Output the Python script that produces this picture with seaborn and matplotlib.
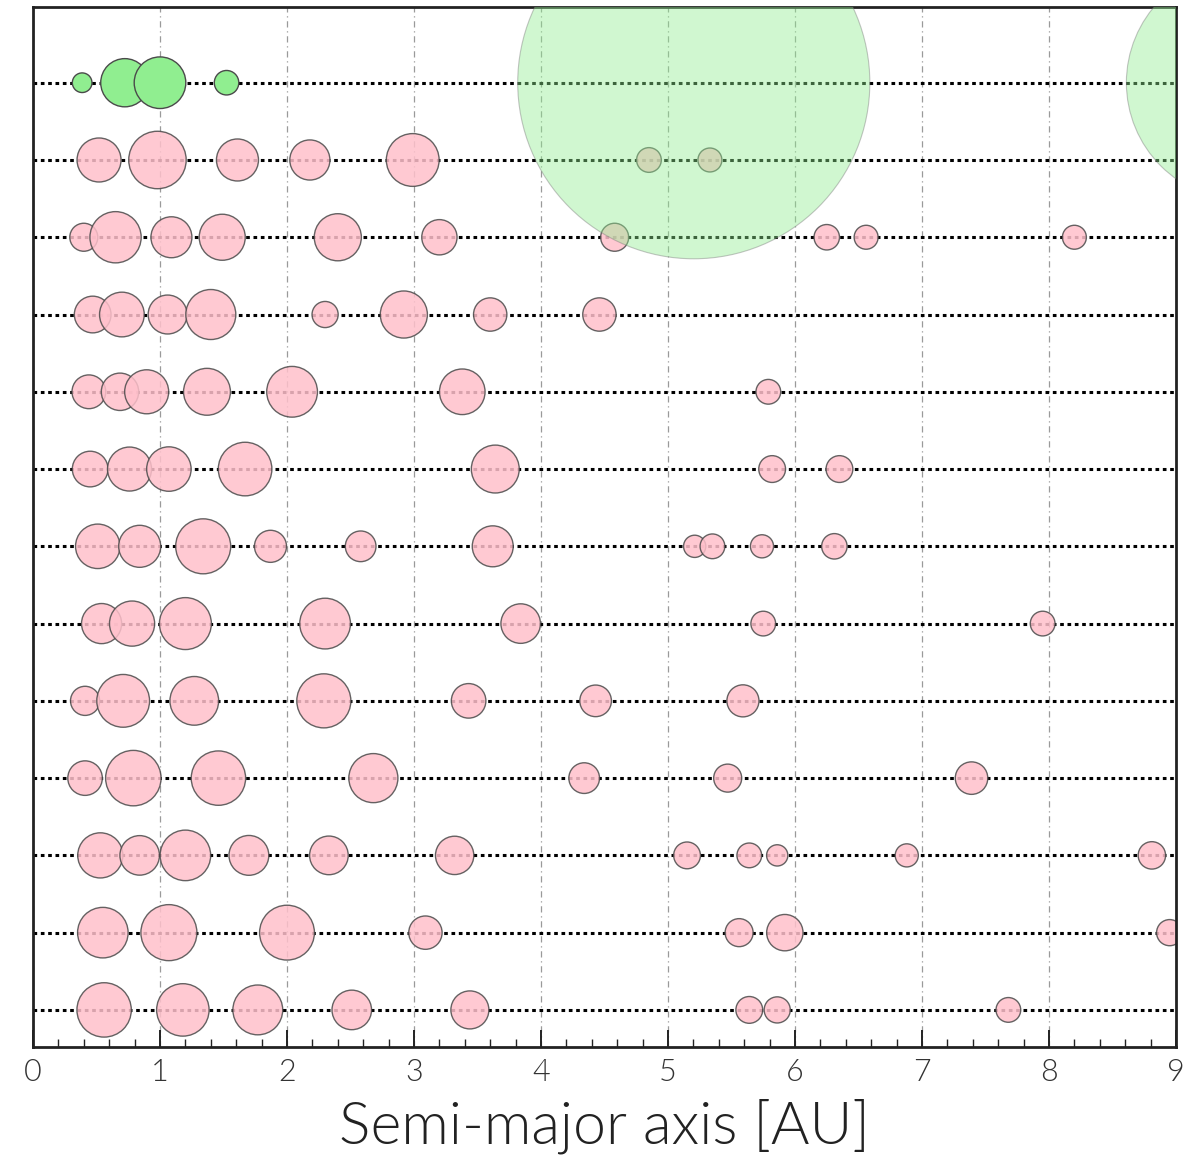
import numpy as np
import pandas as pd
import matplotlib
matplotlib.use("Agg")
import matplotlib.pyplot as plt
import seaborn as sns
from matplotlib.ticker import MultipleLocator

# ---- data: Solar System (row 0) ----
solar_a = [0.387, 0.723, 1.0, 1.524, 5.203, 9.537]      # AU
solar_m = [0.055, 0.815, 1.0, 0.107, 317.8, 95.2]      # Earth masses

# ---- data: simulated systems (rows 1..12) ----
sim_a = [
    [0.52, 0.98, 1.61, 2.18, 2.99, 4.85, 5.33],
    [0.40, 0.65, 1.09, 1.49, 2.40, 3.20, 4.58, 6.25, 6.56, 8.20],
    [0.47, 0.70, 1.06, 1.40, 2.30, 2.92, 3.60, 4.46],
    [0.44, 0.685, 0.895, 1.37, 2.04, 3.38, 5.79],
    [0.45, 0.76, 1.07, 1.67, 3.64, 5.82, 6.35],
    [0.51, 0.84, 1.34, 1.87, 2.58, 3.62, 5.21, 5.35, 5.74, 6.31],
    [0.54, 0.78, 1.20, 2.30, 3.84, 5.75, 7.95],
    [0.41, 0.71, 1.27, 2.29, 3.43, 4.43, 5.59],
    [0.41, 0.79, 1.46, 2.68, 4.34, 5.47, 7.39],
    [0.53, 0.84, 1.20, 1.70, 2.33, 3.32, 5.15, 5.64, 5.86, 6.88, 8.81],
    [0.55, 1.07, 2.00, 3.09, 5.56, 5.92, 8.95],
    [0.56, 1.18, 1.77, 2.51, 3.44, 5.64, 5.86, 7.68],
]
sim_m = [
    [0.62, 1.38, 0.54, 0.47, 1.07, 0.11, 0.10],
    [0.16, 0.98, 0.50, 0.71, 0.76, 0.32, 0.16, 0.12, 0.10, 0.10],
    [0.36, 0.65, 0.43, 0.91, 0.13, 0.76, 0.27, 0.27],
    [0.28, 0.38, 0.62, 0.75, 0.95, 0.69, 0.11],
    [0.33, 0.62, 0.64, 1.12, 0.80, 0.14, 0.14],
    [0.64, 0.54, 1.21, 0.24, 0.21, 0.50, 0.08, 0.11, 0.09, 0.12],
    [0.47, 0.67, 1.02, 0.95, 0.45, 0.11, 0.11],
    [0.18, 1.07, 0.84, 1.15, 0.30, 0.23, 0.24],
    [0.30, 1.24, 1.17, 0.86, 0.21, 0.16, 0.25],
    [0.67, 0.45, 0.94, 0.46, 0.42, 0.41, 0.14, 0.11, 0.07, 0.09, 0.15],
    [0.94, 1.28, 1.20, 0.27, 0.16, 0.35, 0.13],
    [1.17, 1.05, 0.90, 0.45, 0.40, 0.14, 0.13, 0.11],
]

x_ticks = [0, 1, 2, 3, 4, 5, 6, 7, 8, 9]
x_label = "Semi-major axis [AU]"


def marker_area(m):
    # radius proportional to mass^(1/3); area in points^2
    return (1.44 * 25.8 * np.cbrt(np.asarray(m, dtype=float))) ** 2


recs = []
for i, (aa, mm) in enumerate(zip(sim_a, sim_m), start=1):
    for a, m in zip(aa, mm):
        recs.append({"a": a, "system": i, "mass": m})
sim_df = pd.DataFrame(recs)
sim_df["area"] = marker_area(sim_df["mass"])

sol_df = pd.DataFrame({"a": solar_a, "system": 0, "mass": solar_m})
sol_df["area"] = marker_area(sol_df["mass"])
inner = sol_df[sol_df["mass"] < 10]
giants = sol_df[sol_df["mass"] >= 10]

sns.set_style("white")
plt.rcParams["font.family"] = ["Lato", "Liberation Sans", "DejaVu Sans"]

fig = plt.figure(figsize=(11.93, 11.58), dpi=100)
ax = fig.add_axes([33 / 1193, 1 - 1047 / 1158, (1176 - 33) / 1193, (1047 - 7) / 1158])

n_rows = len(sim_a) + 1
for i in range(n_rows):
    ax.axhline(i, color="black", linestyle=(0, (1.2, 1.2)), linewidth=2.2, zorder=1)

allmin = float(min(sim_df["area"].min(), sol_df["area"].min()))
allmax = float(max(sim_df["area"].max(), sol_df["area"].max()))
norm = (allmin, allmax)

sns.scatterplot(data=sim_df, x="a", y="system", size="area", sizes=norm, size_norm=norm,
                color="pink", edgecolor="#4a4a4a", linewidth=1.0, alpha=0.85,
                legend=False, zorder=2, ax=ax)
sns.scatterplot(data=inner, x="a", y="system", size="area", sizes=norm, size_norm=norm,
                color="#90EE90", edgecolor="#4a4a4a", linewidth=1.0, alpha=1.0,
                legend=False, zorder=3, ax=ax)
sns.scatterplot(data=giants, x="a", y="system", size="area", sizes=norm, size_norm=norm,
                color="#90EE90", edgecolor="#777777", linewidth=0.8, alpha=0.42,
                legend=False, zorder=4, ax=ax)

ax.set_xlim(0, 9)
ax.set_ylim(12.48, -0.98)
ax.set_xticks(x_ticks)
ax.xaxis.set_minor_locator(MultipleLocator(0.2))
ax.set_yticks([])
ax.set_ylabel("")
ax.xaxis.grid(True, which="major", color="#9a9a9a", linestyle=(0, (5, 3, 1, 3)), linewidth=0.9)
ax.set_axisbelow(True)
ax.yaxis.grid(False)

ax.tick_params(axis="x", which="both", bottom=True, top=False)
ax.tick_params(axis="x", which="major", direction="in", length=12, width=1.4,
               labelsize=22, labelcolor="#333333", pad=8, color="#222222")
ax.tick_params(axis="x", which="minor", direction="in", length=6, width=1.0, color="#222222")
for lab in ax.get_xticklabels():
    lab.set_fontweight(300)
for s in ax.spines.values():
    s.set_color("#222222")
    s.set_linewidth(2)
    s.set_visible(True)

ax.set_xlabel(x_label, fontsize=42.5, color="#222222", labelpad=8, fontweight=300)

fig.savefig("out.png", dpi=100)
